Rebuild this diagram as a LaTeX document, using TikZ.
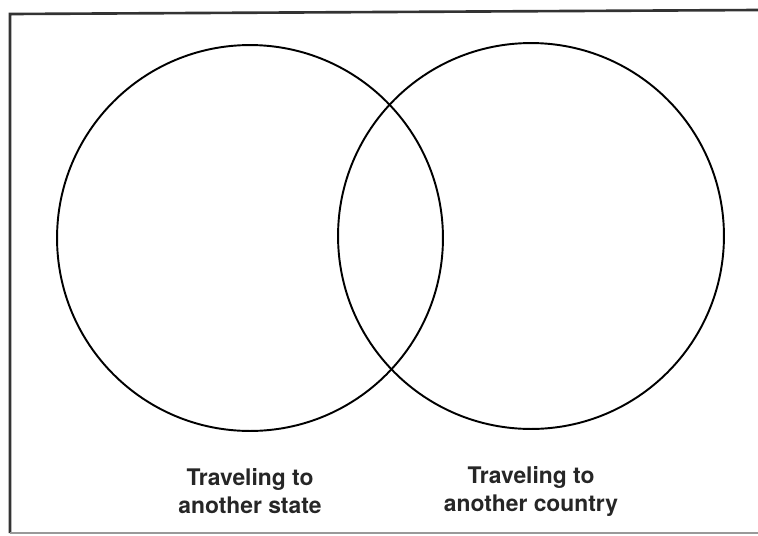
\documentclass[tikz,border=0pt]{standalone}
\usepackage{fontspec}
\setmainfont{TeX Gyre Heros}
\usetikzlibrary{positioning}

\begin{document}
\begin{tikzpicture}[x=0.02cm, y=-0.02cm, ring/.style={circle, draw, line width=1.1pt, minimum size=7.72cm, inner sep=0pt}]
\tikzstyle{caption} = [align=center, font=\bfseries\fontsize{13}{16}\selectfont, text=black!85, inner sep=0pt]
\useasboundingbox (0,0) rectangle (758,535);
% frame of the sheet
\draw[line width=1.5pt, black!80] (10,533) -- (10,14) -- (758,10);
\draw[line width=0.6pt, black!40] (10,533) -- (758,533);
\node[ring] (state) at (250,238) {};
\node[ring] (country) at (531,236) {};
\node[caption, below=0.73cm of state] (statelbl) {Traveling to\\another state};
\node[caption, below=0.73cm of country] (countrylbl) {Traveling to\\another country};
\end{tikzpicture}
\end{document}
